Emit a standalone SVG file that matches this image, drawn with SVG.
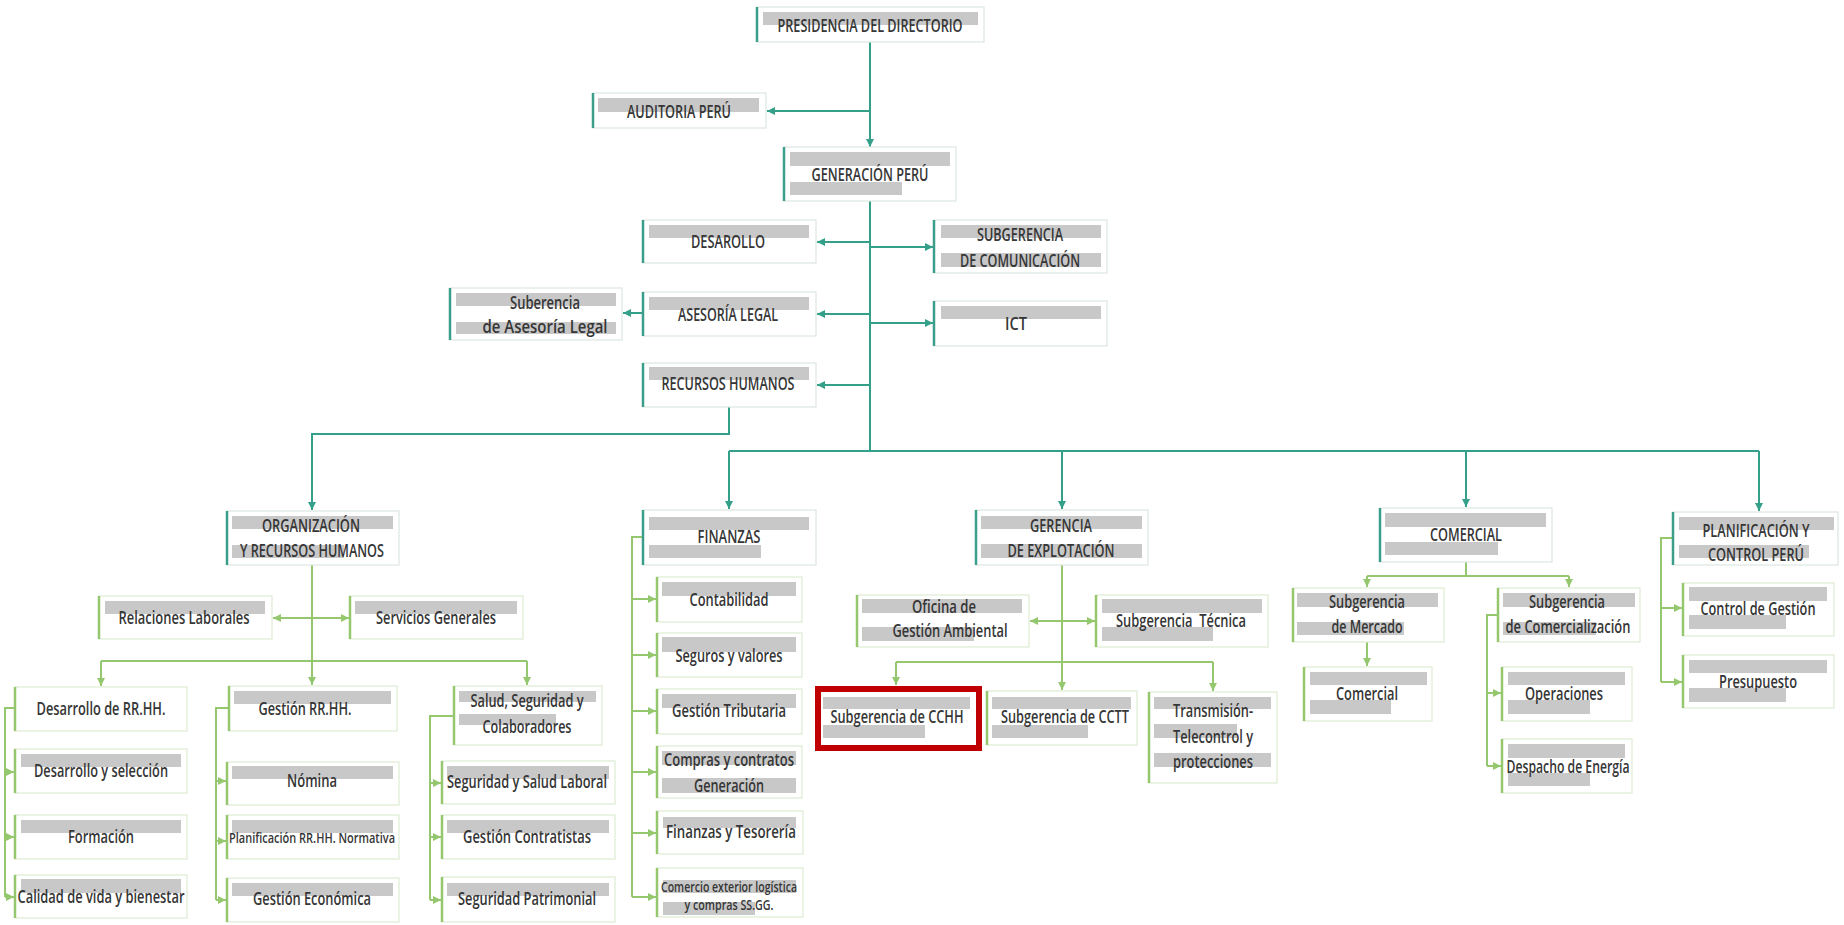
<svg xmlns="http://www.w3.org/2000/svg" width="1844" height="925" viewBox="0 0 1844 925">
<style>
  .box{fill:#fff;stroke:#dde6de;stroke-width:1.2}
  .box-g{fill:#fff;stroke:#dcebd3;stroke-width:1.2}
  .acc-t{stroke:#3a9e8a;stroke-width:2.5}
  .acc-g{stroke:#94c76e;stroke-width:2.5}
  .bar{fill:#c8c8c8}
  .t{font-family:"Open Sans","Liberation Sans",sans-serif;font-weight:600;font-size:18px;fill:#363636;text-anchor:middle}
  .ts{font-size:14.5px}
  .ct{stroke:#34a08a;stroke-width:2;fill:none}
  .cg{stroke:#95c76f;stroke-width:2;fill:none}
  .hl{fill:#fff;stroke:#c00000;stroke-width:6}
</style>
<defs>
  <marker id="at" viewBox="0 0 8 8" refX="8" refY="4" markerWidth="8" markerHeight="8" markerUnits="userSpaceOnUse" orient="auto-start-reverse">
    <path d="M0,0 L8,4 L0,8 z" fill="#34a08a"/>
  </marker>
  <marker id="ag" viewBox="0 0 8 8" refX="8" refY="4" markerWidth="8" markerHeight="8" markerUnits="userSpaceOnUse" orient="auto-start-reverse">
    <path d="M0,0 L8,4 L0,8 z" fill="#95c76f"/>
  </marker>
</defs>
<rect width="1844" height="925" fill="#fff"/>

<!-- connectors -->
<g id="connectors">
  <g class="ct">
    <path d="M870,42 V147" marker-end="url(#at)"/>
    <path d="M870,111 H767" marker-end="url(#at)"/>
    <path d="M870,201 V451"/>
    <path d="M870,242 H817" marker-end="url(#at)"/>
    <path d="M870,247 H933" marker-end="url(#at)"/>
    <path d="M870,314 H817" marker-end="url(#at)"/>
    <path d="M870,323 H933" marker-end="url(#at)"/>
    <path d="M870,385 H817" marker-end="url(#at)"/>
    <path d="M643,313 H623" marker-end="url(#at)"/>
    <path d="M729,407 V434 H312 V510" marker-end="url(#at)"/>
    <path d="M729,451 H1759"/>
    <path d="M729,451 V509" marker-end="url(#at)"/>
    <path d="M1062,451 V509" marker-end="url(#at)"/>
    <path d="M1466,451 V507" marker-end="url(#at)"/>
    <path d="M1759,451 V511" marker-end="url(#at)"/>
  </g>
  <g class="cg">
    <path d="M312,565 V661"/>
    <path d="M273,618 H349" marker-start="url(#ag)" marker-end="url(#ag)"/>
    <path d="M101,661 H527"/>
    <path d="M101,661 V686" marker-end="url(#ag)"/>
    <path d="M312,661 V685" marker-end="url(#ag)"/>
    <path d="M527,661 V685" marker-end="url(#ag)"/>
    <path d="M15,708 H5 V897"/>
    <path d="M5,772 H14" marker-end="url(#ag)"/>
    <path d="M5,837 H14" marker-end="url(#ag)"/>
    <path d="M5,897 H14" marker-end="url(#ag)"/>
    <path d="M229,708 H216 V900"/>
    <path d="M216,781 H226" marker-end="url(#ag)"/>
    <path d="M216,841 H226" marker-end="url(#ag)"/>
    <path d="M216,900 H226" marker-end="url(#ag)"/>
    <path d="M454,716 H430 V900"/>
    <path d="M430,783 H441" marker-end="url(#ag)"/>
    <path d="M430,837 H441" marker-end="url(#ag)"/>
    <path d="M430,900 H441" marker-end="url(#ag)"/>
    <path d="M643,537 H632 V897"/>
    <path d="M632,599 H656" marker-end="url(#ag)"/>
    <path d="M632,655 H656" marker-end="url(#ag)"/>
    <path d="M632,711 H656" marker-end="url(#ag)"/>
    <path d="M632,772 H656" marker-end="url(#ag)"/>
    <path d="M632,833 H656" marker-end="url(#ag)"/>
    <path d="M632,897 H656" marker-end="url(#ag)"/>
    <path d="M1062,565 V690" marker-end="url(#ag)"/>
    <path d="M1030,621 H1095" marker-start="url(#ag)" marker-end="url(#ag)"/>
    <path d="M896,662 H1213"/>
    <path d="M896,662 V685" marker-end="url(#ag)"/>
    <path d="M1213,662 V691" marker-end="url(#ag)"/>
    <path d="M1466,562 V576"/>
    <path d="M1367,576 H1569"/>
    <path d="M1367,576 V587" marker-end="url(#ag)"/>
    <path d="M1569,576 V587" marker-end="url(#ag)"/>
    <path d="M1367,642 V666" marker-end="url(#ag)"/>
    <path d="M1498,615 H1487 V766"/>
    <path d="M1487,693 H1501" marker-end="url(#ag)"/>
    <path d="M1487,766 H1501" marker-end="url(#ag)"/>
    <path d="M1673,538 H1661 V682"/>
    <path d="M1661,608 H1682" marker-end="url(#ag)"/>
    <path d="M1661,682 H1682" marker-end="url(#ag)"/>
  </g>
</g>

<!-- top management -->
<g id="n-presidencia">
  <rect class="box" x="757" y="7" width="227" height="35"/>
  <line class="acc-t" x1="757" y1="7" x2="757" y2="42"/>
  <rect class="bar" x="763" y="12" width="215" height="13"/>
  <text class="t" x="870" y="32" textLength="185" lengthAdjust="spacingAndGlyphs">PRESIDENCIA DEL DIRECTORIO</text>
</g>
<g id="n-auditoria">
  <rect class="box" x="593" y="93" width="173" height="35"/>
  <line class="acc-t" x1="593" y1="93" x2="593" y2="128"/>
  <rect class="bar" x="598" y="98" width="161" height="14"/>
  <text class="t" x="679" y="118" textLength="104" lengthAdjust="spacingAndGlyphs">AUDITORIA PERÚ</text>
</g>
<g id="n-generacion">
  <rect class="box" x="784" y="147" width="172" height="54"/>
  <line class="acc-t" x1="784" y1="147" x2="784" y2="201"/>
  <rect class="bar" x="790" y="152" width="160" height="14"/>
  <rect class="bar" x="790" y="182" width="112" height="13"/>
  <text class="t" x="870" y="181" textLength="117" lengthAdjust="spacingAndGlyphs">GENERACIÓN PERÚ</text>
</g>
<g id="n-desarollo">
  <rect class="box" x="643" y="220" width="173" height="43"/>
  <line class="acc-t" x1="643" y1="220" x2="643" y2="263"/>
  <rect class="bar" x="649" y="225" width="160" height="13"/>
  <text class="t" x="728" y="248" textLength="74" lengthAdjust="spacingAndGlyphs">DESAROLLO</text>
</g>
<g id="n-comunicacion">
  <rect class="box" x="934" y="220" width="173" height="53"/>
  <line class="acc-t" x1="934" y1="220" x2="934" y2="273"/>
  <rect class="bar" x="941" y="225" width="160" height="13"/>
  <rect class="bar" x="941" y="253" width="160" height="14"/>
  <text class="t" x="1020" y="241" textLength="86" lengthAdjust="spacingAndGlyphs">SUBGERENCIA</text>
  <text class="t" x="1020" y="267" textLength="120" lengthAdjust="spacingAndGlyphs">DE COMUNICACIÓN</text>
</g>
<g id="n-sub-asesoria">
  <rect class="box" x="450" y="288" width="172" height="52"/>
  <line class="acc-t" x1="450" y1="288" x2="450" y2="340"/>
  <rect class="bar" x="456" y="293" width="160" height="13"/>
  <rect class="bar" x="456" y="322" width="160" height="12"/>
  <text class="t" x="545" y="309" textLength="70" lengthAdjust="spacingAndGlyphs">Suberencia</text>
  <text class="t" x="545" y="333" textLength="125" lengthAdjust="spacingAndGlyphs">de Asesoría Legal</text>
</g>
<g id="n-asesoria">
  <rect class="box" x="643" y="292" width="173" height="44"/>
  <line class="acc-t" x1="643" y1="292" x2="643" y2="336"/>
  <rect class="bar" x="649" y="297" width="160" height="13"/>
  <text class="t" x="728" y="321" textLength="100" lengthAdjust="spacingAndGlyphs">ASESORÍA LEGAL</text>
</g>
<g id="n-ict">
  <rect class="box" x="934" y="301" width="173" height="45"/>
  <line class="acc-t" x1="934" y1="301" x2="934" y2="346"/>
  <rect class="bar" x="941" y="306" width="160" height="13"/>
  <text class="t" x="1016" y="330" textLength="22" lengthAdjust="spacingAndGlyphs">ICT</text>
</g>
<g id="n-rrhh">
  <rect class="box" x="643" y="363" width="173" height="44"/>
  <line class="acc-t" x1="643" y1="363" x2="643" y2="407"/>
  <rect class="bar" x="649" y="367" width="160" height="13"/>
  <text class="t" x="728" y="390" textLength="133" lengthAdjust="spacingAndGlyphs">RECURSOS HUMANOS</text>
</g>

<!-- management areas -->
<g id="n-organizacion">
  <rect class="box" x="227" y="511" width="172" height="54"/>
  <line class="acc-t" x1="227" y1="511" x2="227" y2="565"/>
  <rect class="bar" x="232" y="516" width="161" height="13"/>
  <rect class="bar" x="232" y="545" width="112" height="13"/>
  <text class="t" x="311" y="532" textLength="98" lengthAdjust="spacingAndGlyphs">ORGANIZACIÓN</text>
  <text class="t" x="312" y="557" textLength="144" lengthAdjust="spacingAndGlyphs">Y RECURSOS HUMANOS</text>
</g>
<g id="n-finanzas">
  <rect class="box" x="643" y="510" width="173" height="55"/>
  <line class="acc-t" x1="643" y1="510" x2="643" y2="565"/>
  <rect class="bar" x="649" y="517" width="160" height="13"/>
  <rect class="bar" x="649" y="545" width="112" height="13"/>
  <text class="t" x="729" y="543" textLength="63" lengthAdjust="spacingAndGlyphs">FINANZAS</text>
</g>
<g id="n-explotacion">
  <rect class="box" x="976" y="510" width="172" height="55"/>
  <line class="acc-t" x1="976" y1="510" x2="976" y2="565"/>
  <rect class="bar" x="981" y="516" width="161" height="13"/>
  <rect class="bar" x="981" y="544" width="161" height="14"/>
  <text class="t" x="1061" y="532" textLength="62" lengthAdjust="spacingAndGlyphs">GERENCIA</text>
  <text class="t" x="1061" y="557" textLength="107" lengthAdjust="spacingAndGlyphs">DE EXPLOTACIÓN</text>
</g>
<g id="n-comercial">
  <rect class="box" x="1380" y="508" width="172" height="54"/>
  <line class="acc-t" x1="1380" y1="508" x2="1380" y2="562"/>
  <rect class="bar" x="1385" y="513" width="161" height="14"/>
  <rect class="bar" x="1385" y="542" width="113" height="13"/>
  <text class="t" x="1466" y="541" textLength="72" lengthAdjust="spacingAndGlyphs">COMERCIAL</text>
</g>
<g id="n-planificacion">
  <rect class="box" x="1673" y="512" width="165" height="53"/>
  <line class="acc-t" x1="1673" y1="512" x2="1673" y2="565"/>
  <rect class="bar" x="1679" y="517" width="155" height="13"/>
  <rect class="bar" x="1679" y="545" width="130" height="13"/>
  <text class="t" x="1756" y="537" textLength="107" lengthAdjust="spacingAndGlyphs">PLANIFICACIÓN Y</text>
  <text class="t" x="1756" y="561" textLength="96" lengthAdjust="spacingAndGlyphs">CONTROL PERÚ</text>
</g>

<!-- organización y recursos humanos -->
<g id="n-relaciones">
  <rect class="box-g" x="99" y="596" width="173" height="43"/>
  <line class="acc-g" x1="99" y1="596" x2="99" y2="639"/>
  <rect class="bar" x="105" y="601" width="160" height="13"/>
  <text class="t" x="184" y="624" textLength="131" lengthAdjust="spacingAndGlyphs">Relaciones Laborales</text>
</g>
<g id="n-servicios">
  <rect class="box-g" x="350" y="596" width="173" height="43"/>
  <line class="acc-g" x1="350" y1="596" x2="350" y2="639"/>
  <rect class="bar" x="355" y="601" width="162" height="13"/>
  <text class="t" x="436" y="624" textLength="120" lengthAdjust="spacingAndGlyphs">Servicios Generales</text>
</g>
<g id="n-desarrollo-rrhh">
  <rect class="box-g" x="15" y="687" width="172" height="44"/>
  <line class="acc-g" x1="15" y1="687" x2="15" y2="731"/>
  <text class="t" x="101" y="715" textLength="129" lengthAdjust="spacingAndGlyphs">Desarrollo de RR.HH.</text>
</g>
<g id="n-seleccion">
  <rect class="box-g" x="15" y="749" width="172" height="44"/>
  <line class="acc-g" x1="15" y1="749" x2="15" y2="793"/>
  <rect class="bar" x="21" y="754" width="160" height="13"/>
  <text class="t" x="101" y="777" textLength="134" lengthAdjust="spacingAndGlyphs">Desarrollo y selección</text>
</g>
<g id="n-formacion">
  <rect class="box-g" x="15" y="815" width="172" height="44"/>
  <line class="acc-g" x1="15" y1="815" x2="15" y2="859"/>
  <rect class="bar" x="21" y="820" width="160" height="13"/>
  <text class="t" x="101" y="843" textLength="66" lengthAdjust="spacingAndGlyphs">Formación</text>
</g>
<g id="n-calidad">
  <rect class="box-g" x="15" y="875" width="172" height="43"/>
  <line class="acc-g" x1="15" y1="875" x2="15" y2="918"/>
  <rect class="bar" x="21" y="879" width="160" height="14"/>
  <text class="t" x="101" y="903" textLength="167" lengthAdjust="spacingAndGlyphs">Calidad de vida y bienestar</text>
</g>
<g id="n-gestion-rrhh">
  <rect class="box-g" x="229" y="686" width="168" height="45"/>
  <line class="acc-g" x1="229" y1="686" x2="229" y2="731"/>
  <rect class="bar" x="234" y="691" width="157" height="13"/>
  <text class="t" x="305" y="715" textLength="93" lengthAdjust="spacingAndGlyphs">Gestión RR.HH.</text>
</g>
<g id="n-nomina">
  <rect class="box-g" x="227" y="762" width="172" height="43"/>
  <line class="acc-g" x1="227" y1="762" x2="227" y2="805"/>
  <rect class="bar" x="232" y="766" width="161" height="13"/>
  <text class="t" x="312" y="787" textLength="50" lengthAdjust="spacingAndGlyphs">Nómina</text>
</g>
<g id="n-planificacion-rrhh">
  <rect class="box-g" x="227" y="815" width="172" height="44"/>
  <line class="acc-g" x1="227" y1="815" x2="227" y2="859"/>
  <rect class="bar" x="232" y="820" width="161" height="13"/>
  <text class="t ts" x="312" y="843" textLength="166" lengthAdjust="spacingAndGlyphs">Planificación RR.HH. Normativa</text>
</g>
<g id="n-gestion-economica">
  <rect class="box-g" x="227" y="878" width="172" height="44"/>
  <line class="acc-g" x1="227" y1="878" x2="227" y2="922"/>
  <rect class="bar" x="232" y="883" width="161" height="13"/>
  <text class="t" x="312" y="905" textLength="118" lengthAdjust="spacingAndGlyphs">Gestión Económica</text>
</g>
<g id="n-salud">
  <rect class="box-g" x="454" y="686" width="148" height="59"/>
  <line class="acc-g" x1="454" y1="686" x2="454" y2="745"/>
  <rect class="bar" x="459" y="691" width="137" height="11"/>
  <rect class="bar" x="459" y="714" width="97" height="11"/>
  <text class="t" x="527" y="707" textLength="113" lengthAdjust="spacingAndGlyphs">Salud, Seguridad y</text>
  <text class="t" x="527" y="733" textLength="89" lengthAdjust="spacingAndGlyphs">Colaboradores</text>
</g>
<g id="n-seguridad-salud">
  <rect class="box-g" x="442" y="761" width="173" height="43"/>
  <line class="acc-g" x1="442" y1="761" x2="442" y2="804"/>
  <rect class="bar" x="447" y="766" width="162" height="13"/>
  <text class="t" x="527" y="788" textLength="160" lengthAdjust="spacingAndGlyphs">Seguridad y Salud Laboral</text>
</g>
<g id="n-contratistas">
  <rect class="box-g" x="442" y="815" width="173" height="44"/>
  <line class="acc-g" x1="442" y1="815" x2="442" y2="859"/>
  <rect class="bar" x="447" y="820" width="162" height="13"/>
  <text class="t" x="527" y="843" textLength="128" lengthAdjust="spacingAndGlyphs">Gestión Contratistas</text>
</g>
<g id="n-patrimonial">
  <rect class="box-g" x="442" y="877" width="173" height="45"/>
  <line class="acc-g" x1="442" y1="877" x2="442" y2="922"/>
  <rect class="bar" x="447" y="883" width="162" height="13"/>
  <text class="t" x="527" y="905" textLength="138" lengthAdjust="spacingAndGlyphs">Seguridad Patrimonial</text>
</g>

<!-- finanzas -->
<g id="n-contabilidad">
  <rect class="box-g" x="657" y="577" width="145" height="45"/>
  <line class="acc-g" x1="657" y1="577" x2="657" y2="622"/>
  <rect class="bar" x="662" y="582" width="134" height="14"/>
  <text class="t" x="729" y="606" textLength="79" lengthAdjust="spacingAndGlyphs">Contabilidad</text>
</g>
<g id="n-seguros">
  <rect class="box-g" x="657" y="633" width="145" height="44"/>
  <line class="acc-g" x1="657" y1="633" x2="657" y2="677"/>
  <rect class="bar" x="662" y="637" width="134" height="15"/>
  <text class="t" x="729" y="662" textLength="107" lengthAdjust="spacingAndGlyphs">Seguros y valores</text>
</g>
<g id="n-tributaria">
  <rect class="box-g" x="657" y="689" width="145" height="45"/>
  <line class="acc-g" x1="657" y1="689" x2="657" y2="734"/>
  <rect class="bar" x="662" y="694" width="134" height="14"/>
  <text class="t" x="729" y="717" textLength="114" lengthAdjust="spacingAndGlyphs">Gestión Tributaria</text>
</g>
<g id="n-compras">
  <rect class="box-g" x="657" y="746" width="145" height="52"/>
  <line class="acc-g" x1="657" y1="746" x2="657" y2="798"/>
  <rect class="bar" x="662" y="751" width="134" height="14"/>
  <rect class="bar" x="662" y="778" width="134" height="15"/>
  <text class="t" x="729" y="766" textLength="130" lengthAdjust="spacingAndGlyphs">Compras y contratos</text>
  <text class="t" x="729" y="792" textLength="70" lengthAdjust="spacingAndGlyphs">Generación</text>
</g>
<g id="n-tesoreria">
  <rect class="box-g" x="657" y="811" width="146" height="43"/>
  <line class="acc-g" x1="657" y1="811" x2="657" y2="854"/>
  <rect class="bar" x="663" y="817" width="133" height="11"/>
  <text class="t" x="731" y="838" textLength="130" lengthAdjust="spacingAndGlyphs">Finanzas y Tesorería</text>
</g>
<g id="n-comercio-exterior">
  <rect class="box-g" x="657" y="868" width="146" height="49"/>
  <line class="acc-g" x1="657" y1="868" x2="657" y2="917"/>
  <rect class="bar" x="663" y="880" width="133" height="13"/>
  <rect class="bar" x="663" y="902" width="92" height="13"/>
  <text class="t ts" x="729" y="892" textLength="136" lengthAdjust="spacingAndGlyphs">Comercio exterior logística</text>
  <text class="t ts" x="729" y="910" textLength="89" lengthAdjust="spacingAndGlyphs">y compras SS.GG.</text>
</g>

<!-- gerencia de explotación -->
<g id="n-ambiental">
  <rect class="box-g" x="857" y="595" width="172" height="52"/>
  <line class="acc-g" x1="857" y1="595" x2="857" y2="647"/>
  <rect class="bar" x="862" y="599" width="160" height="14"/>
  <rect class="bar" x="862" y="627" width="112" height="14"/>
  <text class="t" x="944" y="613" textLength="64" lengthAdjust="spacingAndGlyphs">Oficina de</text>
  <text class="t" x="950" y="637" textLength="115" lengthAdjust="spacingAndGlyphs">Gestión Ambiental</text>
</g>
<g id="n-tecnica">
  <rect class="box-g" x="1096" y="595" width="172" height="52"/>
  <line class="acc-g" x1="1096" y1="595" x2="1096" y2="647"/>
  <rect class="bar" x="1102" y="599" width="160" height="14"/>
  <rect class="bar" x="1102" y="627" width="111" height="14"/>
  <text class="t" x="1181" y="627" textLength="130" lengthAdjust="spacingAndGlyphs" xml:space="preserve">Subgerencia  Técnica</text>
</g>
<g id="n-cchh">
  <rect class="hl" x="818" y="689" width="161" height="59"/>
  <rect class="bar" x="823" y="697" width="147" height="12"/>
  <rect class="bar" x="823" y="725" width="102" height="13"/>
  <text class="t" x="897" y="723" textLength="133" lengthAdjust="spacingAndGlyphs">Subgerencia de CCHH</text>
</g>
<g id="n-cctt">
  <rect class="box-g" x="987" y="691" width="150" height="54"/>
  <line class="acc-g" x1="987" y1="691" x2="987" y2="745"/>
  <rect class="bar" x="992" y="697" width="139" height="12"/>
  <rect class="bar" x="992" y="725" width="96" height="13"/>
  <text class="t" x="1065" y="723" textLength="128" lengthAdjust="spacingAndGlyphs">Subgerencia de CCTT</text>
</g>
<g id="n-transmision">
  <rect class="box-g" x="1149" y="692" width="128" height="91"/>
  <line class="acc-g" x1="1149" y1="692" x2="1149" y2="783"/>
  <rect class="bar" x="1154" y="697" width="117" height="12"/>
  <rect class="bar" x="1154" y="724" width="83" height="14"/>
  <rect class="bar" x="1154" y="753" width="117" height="14"/>
  <text class="t" x="1213" y="717" textLength="80" lengthAdjust="spacingAndGlyphs">Transmisión-</text>
  <text class="t" x="1213" y="743" textLength="80" lengthAdjust="spacingAndGlyphs">Telecontrol y</text>
  <text class="t" x="1213" y="768" textLength="80" lengthAdjust="spacingAndGlyphs">protecciones</text>
</g>

<!-- comercial -->
<g id="n-mercado">
  <rect class="box-g" x="1293" y="588" width="151" height="54"/>
  <line class="acc-g" x1="1293" y1="588" x2="1293" y2="642"/>
  <rect class="bar" x="1297" y="593" width="141" height="14"/>
  <rect class="bar" x="1297" y="622" width="107" height="13"/>
  <text class="t" x="1367" y="608" textLength="76" lengthAdjust="spacingAndGlyphs">Subgerencia</text>
  <text class="t" x="1367" y="633" textLength="71" lengthAdjust="spacingAndGlyphs">de Mercado</text>
</g>
<g id="n-comercial-mercado">
  <rect class="box-g" x="1304" y="667" width="128" height="54"/>
  <line class="acc-g" x1="1304" y1="667" x2="1304" y2="721"/>
  <rect class="bar" x="1310" y="672" width="117" height="13"/>
  <rect class="bar" x="1310" y="700" width="81" height="14"/>
  <text class="t" x="1367" y="700" textLength="62" lengthAdjust="spacingAndGlyphs">Comercial</text>
</g>
<g id="n-comercializacion">
  <rect class="box-g" x="1498" y="588" width="142" height="54"/>
  <line class="acc-g" x1="1498" y1="588" x2="1498" y2="642"/>
  <rect class="bar" x="1503" y="593" width="132" height="14"/>
  <rect class="bar" x="1503" y="622" width="93" height="13"/>
  <text class="t" x="1567" y="608" textLength="76" lengthAdjust="spacingAndGlyphs">Subgerencia</text>
  <text class="t" x="1568" y="633" textLength="125" lengthAdjust="spacingAndGlyphs">de Comercialización</text>
</g>
<g id="n-operaciones">
  <rect class="box-g" x="1502" y="667" width="130" height="54"/>
  <line class="acc-g" x1="1502" y1="667" x2="1502" y2="721"/>
  <rect class="bar" x="1508" y="672" width="117" height="13"/>
  <rect class="bar" x="1508" y="700" width="82" height="14"/>
  <text class="t" x="1564" y="700" textLength="78" lengthAdjust="spacingAndGlyphs">Operaciones</text>
</g>
<g id="n-despacho">
  <rect class="box-g" x="1502" y="739" width="130" height="54"/>
  <line class="acc-g" x1="1502" y1="739" x2="1502" y2="793"/>
  <rect class="bar" x="1508" y="744" width="117" height="14"/>
  <rect class="bar" x="1508" y="773" width="82" height="13"/>
  <text class="t" x="1568" y="773" textLength="123" lengthAdjust="spacingAndGlyphs">Despacho de Energía</text>
</g>

<!-- planificación y control -->
<g id="n-control-gestion">
  <rect class="box-g" x="1683" y="583" width="151" height="53"/>
  <line class="acc-g" x1="1683" y1="583" x2="1683" y2="636"/>
  <rect class="bar" x="1689" y="587" width="138" height="14"/>
  <rect class="bar" x="1689" y="615" width="97" height="14"/>
  <text class="t" x="1758" y="615" textLength="115" lengthAdjust="spacingAndGlyphs">Control de Gestión</text>
</g>
<g id="n-presupuesto">
  <rect class="box-g" x="1683" y="655" width="151" height="53"/>
  <line class="acc-g" x1="1683" y1="655" x2="1683" y2="708"/>
  <rect class="bar" x="1689" y="660" width="138" height="13"/>
  <rect class="bar" x="1689" y="688" width="97" height="14"/>
  <text class="t" x="1758" y="688" textLength="78" lengthAdjust="spacingAndGlyphs">Presupuesto</text>
</g>
</svg>
